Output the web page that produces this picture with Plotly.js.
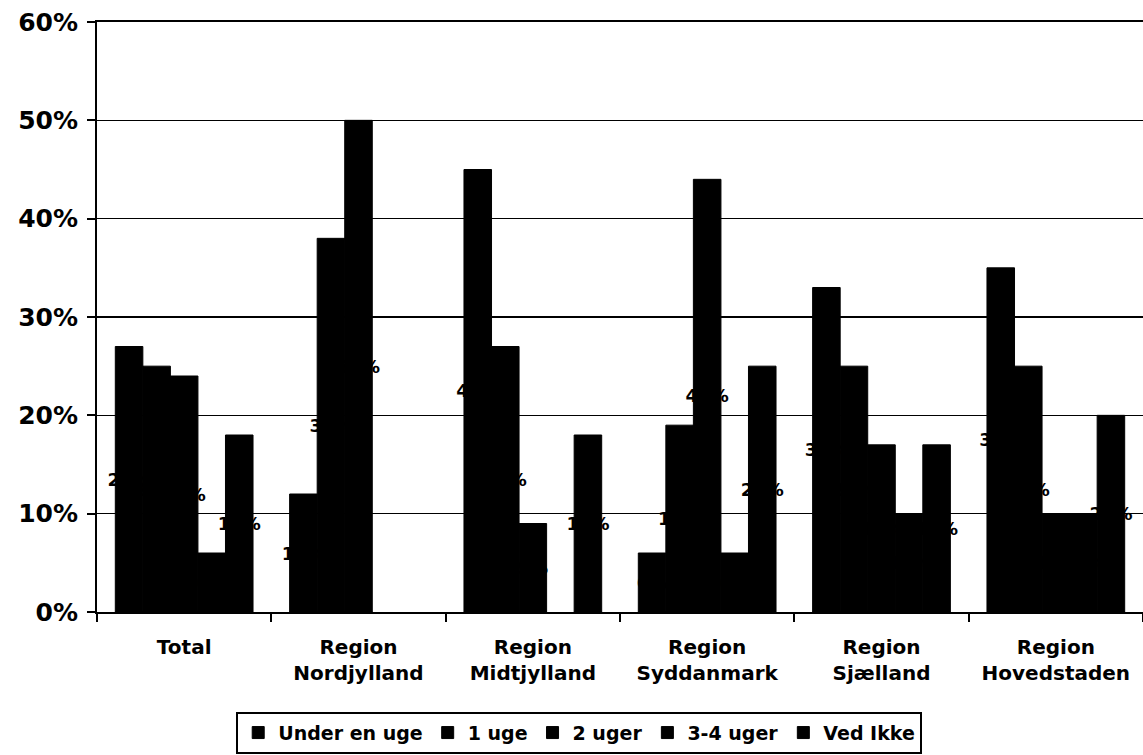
<!DOCTYPE html>
<html>
<head>
<meta charset="utf-8">
<script src="https://cdn.plot.ly/plotly-3.0.1.min.js"></script>
<style>html,body{margin:0;padding:0;background:#fff}#chart{width:1143px;height:755px}</style>
</head>
<body>
<div id="chart"></div>
<script>
const categories = ["Total", "Region<br>Nordjylland", "Region<br>Midtjylland", "Region<br>Syddanmark", "Region<br>Sjælland", "Region<br>Hovedstaden"];
const seriesNames = ["Under en uge", "1 uge", "2 uger", "3-4 uger", "Ved Ikke"];
const underEnUge = [27, 12, 45, 6, 33, 35];
const enUge = [25, 38, 27, 19, 25, 25];
const toUger = [24, 50, 9, 44, 17, 10];
const treFireUger = [6, 0, 0, 6, 10, 10];
const vedIkke = [18, 0, 18, 25, 17, 20];
const yTicks = [0, 10, 20, 30, 40, 50, 60];

const seriesValues = [underEnUge, enUge, toUger, treFireUger, vedIkke];
const FONT = "DejaVu Sans, Arial, sans-serif";

const traces = seriesValues.map((vals, i) => ({
  type: "bar",
  name: seriesNames[i],
  x: categories,
  y: vals,
  text: vals.map(v => v > 0 ? v + "%" : ""),
  textposition: "inside",
  insidetextanchor: "middle",
  textangle: 0,
  constraintext: "none",
  textfont: {family: FONT, size: 18, color: "#000", weight: "bold"},
  marker: {color: "#000", line: {width: vals.map(v => v > 0 ? 1 : 0), color: "#000"}},
  cliponaxis: false,
  hoverinfo: "skip"
}));

const layout = {
  width: 1143,
  height: 755,
  margin: {l: 97, r: 0, t: 22, b: 143},
  paper_bgcolor: "#fff",
  plot_bgcolor: "#fff",
  barmode: "group",
  bargap: 0.21,
  bargroupgap: 0,
  showlegend: true,
  font: {family: FONT, color: "#000"},
  xaxis: {
    type: "category",
    showline: true,
    mirror: true,
    linecolor: "#000",
    linewidth: 2,
    ticks: "outside",
    tickson: "boundaries",
    ticklen: 8,
    tickwidth: 2,
    tickcolor: "#000",
    showgrid: false,
    tickfont: {family: FONT, size: 20, color: "#000", weight: "bold"},
    ticklabelstandoff: 16
  },
  yaxis: {
    range: [0, 60],
    tickvals: yTicks,
    ticktext: yTicks.map(v => v + "%"),
    showline: true,
    linecolor: "#000",
    linewidth: 2,
    ticks: "outside",
    ticklen: 8,
    tickwidth: 2,
    tickcolor: "#000",
    showgrid: true,
    gridcolor: "#000",
    gridwidth: 1.5,
    zeroline: false,
    tickfont: {family: FONT, size: 25, color: "#000", weight: "bold"},
    ticklabelstandoff: 4
  },
  legend: {
    orientation: "h",
    x: 0.461,
    xanchor: "center",
    y: -0.169,
    yanchor: "top",
    bordercolor: "#000",
    borderwidth: 2,
    bgcolor: "#fff",
    font: {family: FONT, size: 19, color: "#000", weight: "bold"},
    itemwidth: 30,
    traceorder: "normal"
  }
};

Plotly.newPlot("chart", traces, layout, {displayModeBar: false, staticPlot: true});
</script>
</body>
</html>
